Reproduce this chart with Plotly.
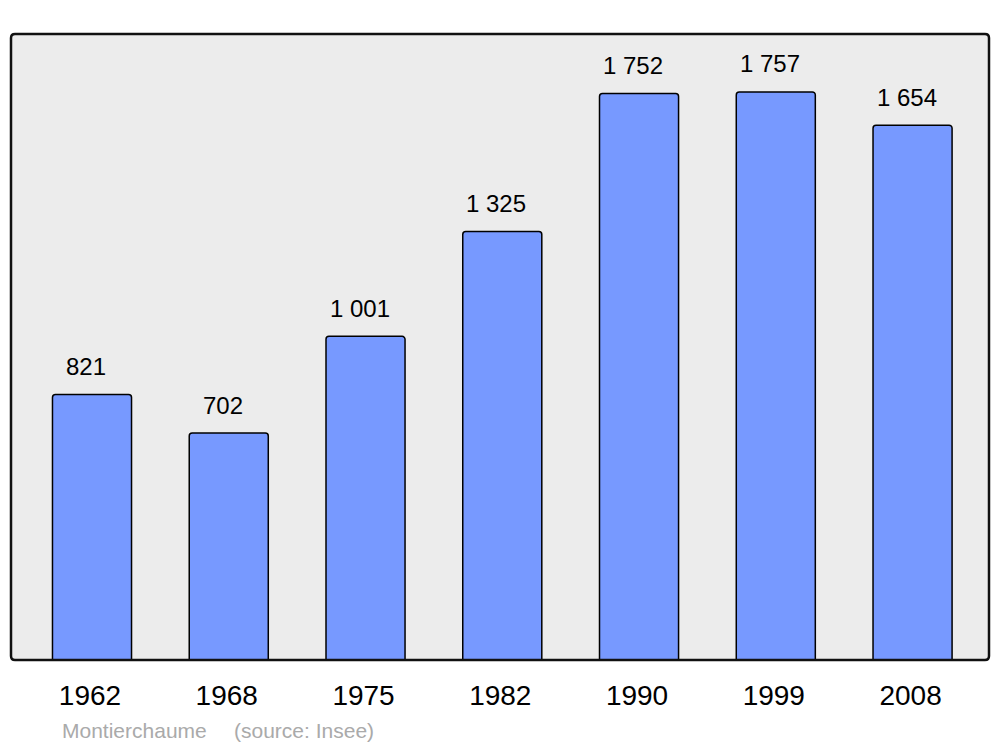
import plotly.graph_objects as go

years = ["1962", "1968", "1975", "1982", "1990", "1999", "2008"]
population = [821, 702, 1001, 1325, 1752, 1757, 1654]
labels = ["821", "702", "1 001", "1 325", "1 752", "1 757", "1 654"]

positions = list(range(len(years)))

W, H = 1000, 747
L, R, T, B = 11, 11, 34, 87
pw, ph = W - L - R, H - T - B

fig = go.Figure()
fig.add_trace(go.Bar(
    x=positions, y=population,
    width=0.578,
    marker=dict(color="#7799ff", line=dict(color="#000000", width=1.5), cornerradius=3),
    hoverinfo="skip",
))

for xp, v, t in zip(positions, population, labels):
    fig.add_annotation(x=xp, y=v, text=t, showarrow=False, xref="x", yref="y",
                       xanchor="center", yanchor="middle", xshift=-6, yshift=28,
                       font=dict(family="Liberation Sans, Arial", size=24, color="#000000"))

# rounded frame
rx, ry = 4 / pw, 4 / ph
path = (f"M {rx},0 L {1-rx},0 Q 1,0 1,{ry} L 1,{1-ry} Q 1,1 {1-rx},1 "
        f"L {rx},1 Q 0,1 0,{1-ry} L 0,{ry} Q 0,0 {rx},0 Z")
fig.add_shape(type="path", path=path, xref="paper", yref="paper",
              line=dict(color="#111111", width=2.5), layer="above")

fig.add_annotation(x=(60 - L) / pw, y=-(730 - (T + ph)) / ph, xref="paper", yref="paper",
                   text="Montierchaume", showarrow=False, xanchor="left", yanchor="middle",
                   font=dict(family="Liberation Sans, Arial", size=21, color="#aaaaaa"))
fig.add_annotation(x=(232 - L) / pw, y=-(730 - (T + ph)) / ph, xref="paper", yref="paper",
                   text="(source: Insee)", showarrow=False, xanchor="left", yanchor="middle",
                   font=dict(family="Liberation Sans, Arial", size=21, color="#aaaaaa"))

fig.update_layout(
    width=W, height=H,
    margin=dict(l=L, r=R, t=T, b=B),
    paper_bgcolor="#ffffff", plot_bgcolor="#ececec",
    showlegend=False,
    xaxis=dict(range=[-0.5923, 6.559], showgrid=False, zeroline=False,
               showline=False, ticks="", tickmode="array", tickvals=positions, ticktext=years,
               ticklabelstandoff=16, ticklabelshift=-2,
               tickfont=dict(family="Liberation Sans, Arial", size=28, color="#000000")),
    yaxis=dict(range=[0, 1936], showgrid=False, zeroline=False, showticklabels=False,
               showline=False, ticks=""),
)

fig.write_html("out.html", config={"displayModeBar": False},
               post_script="document.body.style.margin='0';document.body.style.overflow='hidden';")
